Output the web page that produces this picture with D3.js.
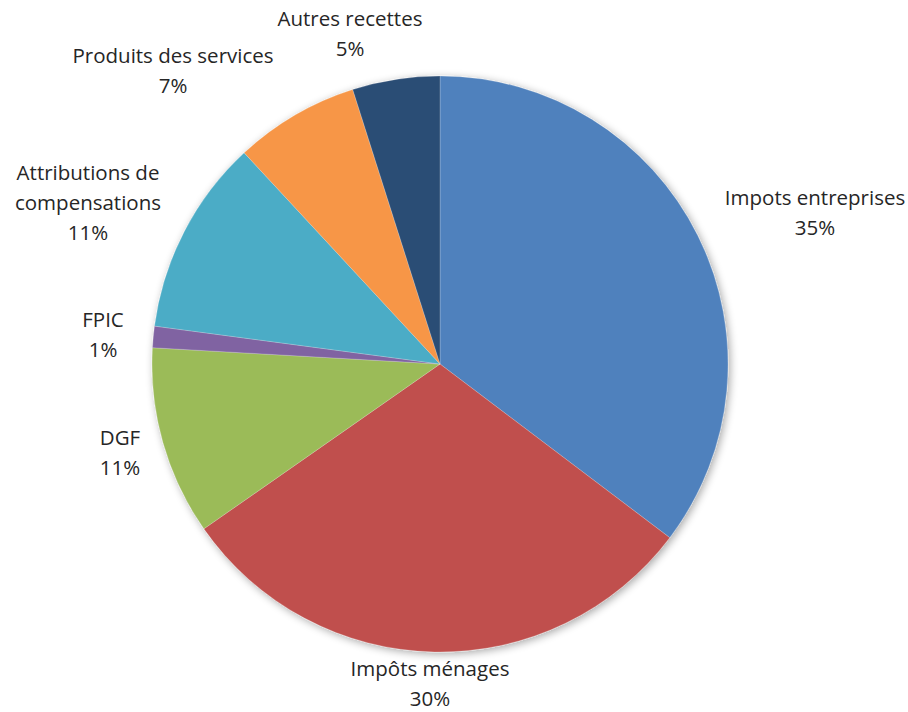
<!DOCTYPE html>
<html>
<head>
<meta charset="utf-8">
<script src="https://cdn.jsdelivr.net/npm/d3@7"></script>
<style>
  body { margin: 0; background: #fff; }
  text { font-family: "Open Sans", "Liberation Sans", sans-serif; fill: #262626; }
</style>
</head>
<body>
<div id="chart"></div>
<script>
const WIDTH = 908, HEIGHT = 712;
const CX = 440, CY = 364, R = 288;

const categories = ['Impots entreprises', 'Impôts ménages', 'DGF', 'FPIC',
  'Attributions de compensations', 'Produits des services', 'Autres recettes'];
const values = [35.3, 30.0, 10.6, 1.2, 11.0, 7.0, 4.9];
const colors = ['#4F81BD', '#C0504D', '#9BBB59', '#8064A2', '#4BACC6', '#F79646', '#2C4D75'];
// label lines (text broken as in the picture)
const labelLines = [['Impots entreprises'], ['Impôts ménages'], ['DGF'], ['FPIC'],
  ['Attributions de', 'compensations'], ['Produits des services'], ['Autres recettes']];
// label anchor (centre of first line), in px
const labelPos = [[815, 200], [430, 671], [120, 440], [103, 322], [88, 175], [173, 58], [350, 21]];

const data = categories.map((c, i) => ({ name: c, value: values[i], color: colors[i], lines: labelLines[i], pos: labelPos[i] }));

const svg = d3.select('#chart').append('svg')
  .attr('width', WIDTH)
  .attr('height', HEIGHT);

const defs = svg.append('defs');
const f = defs.append('filter').attr('id', 'shadow')
  .attr('x', '-10%').attr('y', '-10%').attr('width', '120%').attr('height', '120%');
f.append('feGaussianBlur').attr('in', 'SourceAlpha').attr('stdDeviation', 4).attr('result', 'b');
f.append('feOffset').attr('in', 'b').attr('dx', 2).attr('dy', 2).attr('result', 'o');
f.append('feComponentTransfer').attr('in', 'o').attr('result', 's')
  .append('feFuncA').attr('type', 'linear').attr('slope', 0.35);
const m = f.append('feMerge');
m.append('feMergeNode').attr('in', 's');
m.append('feMergeNode').attr('in', 'SourceGraphic');

const pie = d3.pie().sort(null).value(d => d.value);
const arc = d3.arc().innerRadius(0).outerRadius(R);

const g = svg.append('g')
  .attr('transform', `translate(${CX}, ${CY})`)
  .attr('filter', 'url(#shadow)');

g.selectAll('path')
  .data(pie(data))
  .enter().append('path')
  .attr('d', arc)
  .attr('fill', d => d.data.color)
  .attr('stroke', 'rgba(255,255,255,0.25)')
  .attr('stroke-width', 0.8);

const LH = 30;
const labels = svg.selectAll('.lbl')
  .data(data)
  .enter().append('text')
  .attr('class', 'lbl')
  .attr('text-anchor', 'middle')
  .attr('font-size', 20.5)
  .attr('dominant-baseline', 'middle');

labels.each(function (d) {
  const t = d3.select(this);
  const lines = d.lines.concat([Math.round(d.value) + '%']);
  lines.forEach((l, i) => {
    t.append('tspan')
      .attr('x', d.pos[0])
      .attr('y', d.pos[1] + i * LH)
      .text(l);
  });
});
</script>
</body>
</html>
